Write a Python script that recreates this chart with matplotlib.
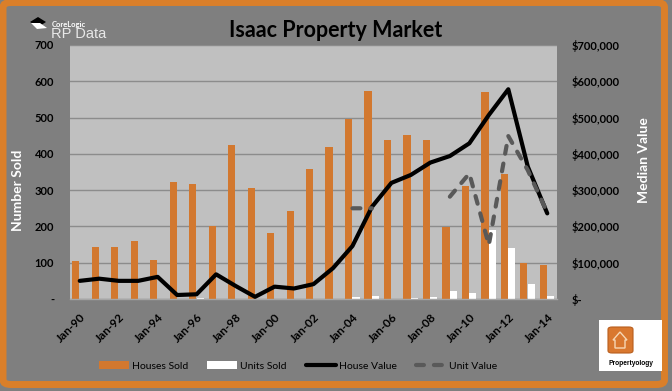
import numpy as np
import matplotlib
matplotlib.use("Agg")
import matplotlib.pyplot as plt
from matplotlib.patches import Patch, FancyBboxPatch, Rectangle, Polygon
from matplotlib.lines import Line2D
from matplotlib.ticker import FuncFormatter, FixedLocator

# ---------------- data ----------------
years = list(range(1990, 2015))
houses_sold = [105, 143, 143, 160, 107, 322, 318, 202, 424, 307, 183, 242, 359,
               420, 497, 574, 438, 452, 438, 198, 312, 571, 344, 98, 95]
units_sold = [0, 0, 0, 0, 0, 0, 3, 0, 0, 0, 0, 0, 0,
              0, 6, 8, 0, 3, 5, 23, 17, 190, 140, 42, 8]
house_value = [50000, 56000, 50000, 50000, 61000, 11000, 13000, 68000, 36000,
               6000, 34000, 29000, 41000, 85000, 146000, 254000, 320000, 342000,
               376000, 394000, 429000, 507000, 578000, 365000, 236000]
nan = np.nan
unit_value = [nan, nan, nan, nan, nan, nan, nan, nan, nan, nan, nan, nan, nan, nan,
              250000, 250000, nan, nan, nan, 282000, 346000, 149000, 449000,
              355000, 238000]
tick_labels = ["Jan-90", "Jan-92", "Jan-94", "Jan-96", "Jan-98", "Jan-00", "Jan-02",
               "Jan-04", "Jan-06", "Jan-08", "Jan-10", "Jan-12", "Jan-14"]
left_ticks = [0, 100, 200, 300, 400, 500, 600, 700]
right_ticks = [0, 100000, 200000, 300000, 400000, 500000, 600000, 700000]

# ---------------- style ----------------
FONT = "Lato"
ORANGE = "#D2782F"
FRAME = "#DA7F2A"
BG = "#7F7F7F"
PLOT_BG = "#C0C0C0"

W, H = 672, 391
fig = plt.figure(figsize=(W / 100, H / 100), dpi=100, facecolor=BG)

def fx(px):
    return px / W

def fy(py):
    return 1 - py / H

# orange frame
frame = FancyBboxPatch((fx(3), fy(384.5)), fx(664.5) - fx(3), fy(2.5) - fy(384.5),
                       boxstyle="round,pad=0,rounding_size=0.012",
                       transform=fig.transFigure, facecolor="none",
                       edgecolor=FRAME, linewidth=5.0, zorder=0)
fig.add_artist(frame)

ax = fig.add_axes([fx(70), fy(299), fx(557) - fx(70), fy(45) - fy(299)])
ax.set_facecolor(PLOT_BG)
x = np.arange(len(years))
ax.bar(x - 0.2, houses_sold, width=0.37, color=ORANGE, zorder=2)
ax.bar(x + 0.18, units_sold, width=0.37, color="white", zorder=2)
ax.set_xlim(-0.5, len(years) - 0.5)
ax.set_ylim(0, 700)
ax.yaxis.set_major_locator(FixedLocator(left_ticks))
ax.yaxis.set_major_formatter(FuncFormatter(lambda v, p: "-" if v == 0 else f"{int(v)}"))
ax.yaxis.grid(True, color="#8C8C8C", linewidth=1.0)
ax.set_axisbelow(True)
for s in ["top", "left", "right"]:
    ax.spines[s].set_visible(False)
ax.spines["bottom"].set_color("#A6A6A6")
ax.spines["bottom"].set_linewidth(1.0)
ax.set_xticks(x[::2])
ax.set_xticklabels(tick_labels, rotation=45, ha="right", va="top",
                   rotation_mode="anchor", fontsize=8.5, fontfamily=FONT,
                   fontweight="bold")
ax.tick_params(axis="x", length=0, pad=9)
ax.tick_params(axis="y", length=0, pad=11.5)
for t in ax.get_yticklabels():
    t.set_fontfamily(FONT)
    t.set_fontweight("bold")
    t.set_fontsize(8)

ax2 = ax.twinx()
ax2.set_ylim(0, 700000)
ax2.plot(x, house_value, color="black", linewidth=3.0,
         solid_joinstyle="round", solid_capstyle="round", zorder=3)
ax2.plot(x, unit_value, color="#595959", linewidth=3.0, dashes=(1.9, 2.4),
         dash_capstyle="round", dash_joinstyle="round", zorder=3)
ax2.yaxis.set_major_locator(FixedLocator(right_ticks))
ax2.yaxis.set_major_formatter(FuncFormatter(lambda v, p: "$-" if v == 0 else f"${int(v):,}"))
for s in ["top", "left", "right", "bottom"]:
    ax2.spines[s].set_visible(False)
ax2.tick_params(axis="y", length=0, pad=10.5)
for t in ax2.get_yticklabels():
    t.set_fontfamily(FONT)
    t.set_fontweight("bold")
    t.set_fontsize(8)

# axis titles
fig.text(fx(18), fy(190), "Number Sold", rotation=90, ha="center", va="center",
         color="white", fontsize=10, fontweight="bold", fontfamily=FONT)
fig.text(fx(644), fy(160), "Median Value", rotation=90, ha="center", va="center",
         color="white", fontsize=10, fontweight="bold", fontfamily=FONT)

# title
fig.text(fx(336), fy(37), "Isaac Property Market", ha="center", va="baseline",
         color="black", fontsize=15.5, fontweight="bold", fontfamily=FONT)

# legend
handles = [Patch(facecolor=ORANGE, edgecolor="none"),
           Patch(facecolor="white", edgecolor="none"),
           Line2D([], [], color="black", linewidth=3.0, solid_capstyle="round"),
           Line2D([], [], color="#595959", linewidth=3.0, dashes=(1.9, 2.4),
                  dash_capstyle="round")]
labels = ["Houses Sold", "Units Sold", "House Value", "Unit Value"]
fig.legend(handles, labels, loc="center", bbox_to_anchor=(fx(298), fy(366)),
           ncol=4, frameon=False, prop={"family": FONT, "size": 7.5},
           handlelength=2.9, handleheight=0.75, handletextpad=0.3,
           columnspacing=1.8)

# CoreLogic RP Data logo
fig.add_artist(Polygon([[fx(30), fy(22)], [fx(38), fy(17)], [fx(46), fy(22)], [fx(38), fy(27)]],
                       closed=True, transform=fig.transFigure, facecolor="black",
                       edgecolor="none"))
fig.add_artist(Polygon([[fx(31), fy(23)], [fx(40), fy(23)], [fx(47), fy(28)], [fx(37), fy(29)]],
                       closed=True, transform=fig.transFigure, facecolor="white",
                       edgecolor="none"))
fig.text(fx(52), fy(27), "CoreLogic", color="white", fontsize=5.5,
         fontweight="bold", fontfamily=FONT, va="baseline", ha="left")
fig.text(fx(51), fy(38), "RP Data", color="#E8E8E8", fontsize=10.5,
         fontfamily="Liberation Sans", va="baseline", ha="left")

# Propertyology logo
fig.add_artist(Rectangle((fx(599), fy(371)), fx(662) - fx(599), fy(320) - fy(371),
                         transform=fig.transFigure, facecolor="white", edgecolor="none"))
fig.add_artist(FancyBboxPatch((fx(608), fy(353)), fx(633) - fx(608), fy(327) - fy(353),
                              boxstyle="round,pad=0,rounding_size=0.006",
                              transform=fig.transFigure, facecolor="#D9782F",
                              edgecolor="#B85E1E", linewidth=0.8))
fig.add_artist(Polygon([[fx(613), fy(340)], [fx(620), fy(332)], [fx(627), fy(340)],
                        [fx(625), fy(340)], [fx(625), fy(348)], [fx(615), fy(348)],
                        [fx(615), fy(340)]], closed=True, transform=fig.transFigure,
                       facecolor="none", edgecolor="#F6D7B5", linewidth=1.0))
fig.text(fx(631), fy(363.5), "Propertyology", color="black", fontsize=4.8,
         fontweight="bold", fontfamily="Liberation Sans", ha="center", va="center")

fig.savefig("out.png", dpi=100, facecolor=BG)
